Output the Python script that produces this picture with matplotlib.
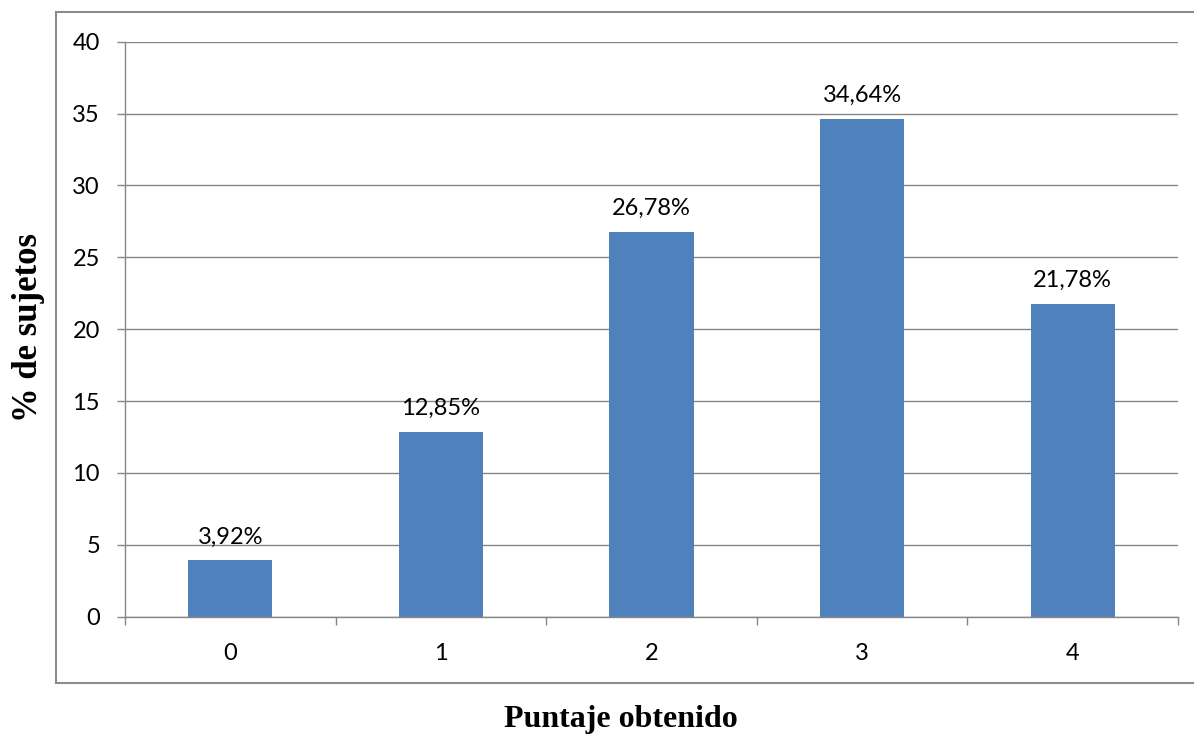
import matplotlib
matplotlib.use("Agg")
import matplotlib.pyplot as plt
from matplotlib.lines import Line2D

# puntaje y porcentaje de sujetos
puntajes = ["0", "1", "2", "3", "4"]
porcentajes = [3.92, 12.85, 26.78, 34.64, 21.78]
etiquetas = ["3,92%", "12,85%", "26,78%", "34,64%", "21,78%"]
yticks = [0, 5, 10, 15, 20, 25, 30, 35, 40]

W, H = 1194, 737
fig = plt.figure(figsize=(W / 100, H / 100), dpi=100)
fig.patch.set_facecolor("white")

gris = "#868686"
azul = "#4F81BD"
fuente = "Lato"
tam = 17

# marco exterior del grafico
x0, x1 = 56 / W, 1.01
y0, y1 = 1 - 683 / H, 1 - 12 / H
for xs, ys in [((x0, x1), (y1, y1)), ((x0, x0), (y0, y1)), ((x0, x1), (y0, y0))]:
    fig.add_artist(Line2D(xs, ys, transform=fig.transFigure, color="#8c8c8c", lw=1.5))

ax = fig.add_axes([125 / W, 1 - 616.7 / H, (1178 - 125) / W, (616.7 - 41.7) / H])
pos = range(len(puntajes))
ax.bar(pos, porcentajes, width=0.4, color=azul, zorder=3)
for i, (v, t) in enumerate(zip(porcentajes, etiquetas)):
    ax.text(i, v + 0.9, t, ha="center", va="bottom", fontsize=tam, family=fuente)

ax.set_xlim(-0.5, len(puntajes) - 0.5)
ax.set_ylim(0, 40)
ax.set_yticks(yticks)
ax.set_yticklabels([str(v) for v in yticks], family=fuente, fontsize=tam)
ax.yaxis.grid(True, color=gris, lw=1.0, zorder=0)

ax.set_xticks([i - 0.5 for i in range(len(puntajes) + 1)])
ax.set_xticklabels([])
ax.set_xticks(list(pos), minor=True)
ax.set_xticklabels(puntajes, minor=True, family=fuente, fontsize=tam)
ax.tick_params(axis="x", which="major", length=6, width=1, color=gris, direction="out")
ax.tick_params(axis="x", which="minor", length=0, pad=19)
ax.tick_params(axis="y", length=6, width=1, color=gris, pad=12)

for s in ["top", "right"]:
    ax.spines[s].set_visible(False)
for s in ["left", "bottom"]:
    ax.spines[s].set_color(gris)
    ax.spines[s].set_linewidth(1.0)
    ax.spines[s].set_zorder(4)

fig.text(29 / W, 1 - 328 / H, "% de sujetos", rotation=90, ha="center", va="center",
         family="Liberation Serif", fontweight="bold", fontsize=25)
fig.text(621 / W, 1 - 720 / H, "Puntaje obtenido", ha="center", va="center",
         family="Liberation Serif", fontweight="bold", fontsize=23)

fig.savefig("out.png", dpi=100, facecolor="white")
